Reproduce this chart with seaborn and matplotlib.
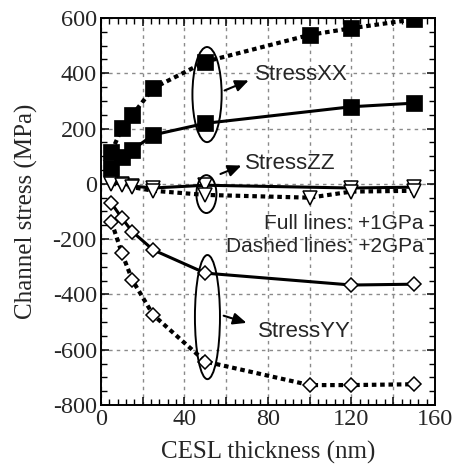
import numpy as np
import seaborn as sns
import matplotlib.pyplot as plt
from matplotlib.patches import Ellipse
from matplotlib.ticker import MultipleLocator, FixedFormatter, FixedLocator

# data (CESL thickness in nm, stress in MPa)
x_full = [5, 10, 15, 25, 50, 120, 150]
x_dash = [5, 10, 15, 25, 50, 100, 120, 150]

xx_full = [56, 98, 123, 177, 219, 279, 292]
xx_dash = [116, 201, 249, 346, 442, 539, 563, 595]

zz_full = [2, 0, -8, -15, -5, -15, -12]
zz_dash = [0, -3, -12, -25, -40, -50, -28, -25]

yy_full = [-70, -124, -173, -239, -323, -366, -363]
yy_dash = [-137, -251, -348, -474, -643, -728, -728, -725]

sns.set_style("ticks")
plt.rcParams["axes.unicode_minus"] = False
serif = ["Liberation Serif", "DejaVu Serif"]
sans = ["Liberation Sans", "DejaVu Sans"]

fig = plt.figure(figsize=(4.54, 4.69), dpi=100)
ax = fig.add_axes([0.2225, 0.1365, 0.7355, 0.8251])

dash_ls = (0, (1.1, 0.9))

# StressXX: filled squares
sns.lineplot(x=x_full, y=xx_full, ax=ax, color="black", lw=2.2, marker="s",
             markersize=11, markerfacecolor="black", markeredgecolor="black",
             markeredgewidth=0.5, zorder=4)
sns.lineplot(x=x_dash, y=xx_dash, ax=ax, color="black", lw=3, linestyle=dash_ls,
             marker="s", markersize=11, markerfacecolor="black",
             markeredgecolor="black", markeredgewidth=0.5, zorder=4)

# StressZZ: open down triangles
sns.lineplot(x=x_full, y=zz_full, ax=ax, color="black", lw=2.2, marker="v",
             markersize=10.5, markerfacecolor="white", markeredgecolor="black",
             markeredgewidth=1.1, zorder=4)
sns.lineplot(x=x_dash, y=zz_dash, ax=ax, color="black", lw=3, linestyle=dash_ls,
             marker="v", markersize=10.5, markerfacecolor="white",
             markeredgecolor="black", markeredgewidth=1.1, zorder=4)

# StressYY: open diamonds
sns.lineplot(x=x_full, y=yy_full, ax=ax, color="black", lw=2.2, marker="D",
             markersize=6.8, markerfacecolor="white", markeredgecolor="black",
             markeredgewidth=1.1, zorder=4)
sns.lineplot(x=x_dash, y=yy_dash, ax=ax, color="black", lw=3, linestyle=dash_ls,
             marker="D", markersize=6.8, markerfacecolor="white",
             markeredgecolor="black", markeredgewidth=1.1, zorder=4)

ax.set_xlim(0, 160)
ax.set_ylim(-800, 600)

# ticks: inward on all sides
ax.xaxis.set_major_locator(FixedLocator(np.arange(0, 161, 20)))
ax.xaxis.set_major_formatter(FixedFormatter(["0", "", "40", "", "80", "", "120", "", "160"]))
ax.xaxis.set_minor_locator(MultipleLocator(4))
ax.yaxis.set_major_locator(MultipleLocator(200))
ax.yaxis.set_minor_locator(MultipleLocator(50))
ax.tick_params(which="both", direction="in", top=True, right=True, color="black")
ax.tick_params(which="major", length=6, width=1.1, pad=3, labelsize=17.5)
ax.tick_params(which="minor", length=4, width=1.0)
for lab in ax.get_xticklabels() + ax.get_yticklabels():
    lab.set_family(serif)

ax.grid(True, which="major", color="#8a8a8a", lw=1.0, linestyle=(0, (2.5, 3)))
ax.set_axisbelow(True)
for sp in ax.spines.values():
    sp.set_linewidth(1.4)
    sp.set_color("black")

ax.set_xlabel("CESL thickness (nm)", family=serif, fontsize=18, labelpad=8)
ax.set_ylabel("Channel stress (MPa)", family=serif, fontsize=18)
ax.yaxis.set_label_coords(-0.19, 0.5)

# ellipses and arrows
for cx, cy, w, h in [(50.8, 323, 14, 344), (50.5, -37, 9.6, 137), (51, -482, 12, 449)]:
    ax.add_patch(Ellipse((cx, cy), w, h, fill=False, ec="black", lw=1.4, zorder=5))

arrow = dict(arrowstyle="-|>,head_length=0.8,head_width=0.35", color="black", lw=1.5)
ax.annotate("", xy=(72, 378), xytext=(58, 334), arrowprops=arrow)
ax.annotate("", xy=(68.5, 70), xytext=(56, 32), arrowprops=arrow)
ax.annotate("", xy=(71, -506), xytext=(57.5, -474), arrowprops=arrow)

ax.text(74, 394, "StressXX", family=sans, fontsize=16, va="center", ha="left")
ax.text(69, 75, "StressZZ", family=sans, fontsize=16, va="center", ha="left")
ax.text(75, -535, "StressYY", family=sans, fontsize=16, va="center", ha="left")
ax.text(154.5, -142, "Full lines: +1GPa", family=sans, fontsize=15, va="center", ha="right")
ax.text(154.5, -227, "Dashed lines: +2GPa", family=sans, fontsize=15, va="center", ha="right")

fig.savefig("out.png", dpi=100)
